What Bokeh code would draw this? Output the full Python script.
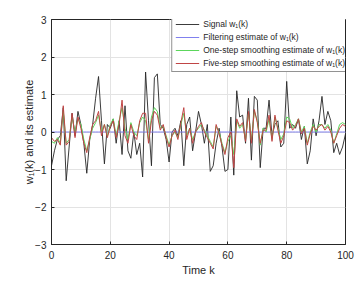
from bokeh.plotting import figure
from bokeh.models import Range1d, SingleIntervalTicker, Legend, LegendItem
from bokeh.embed import file_html
from bokeh.resources import INLINE

k = list(range(101))

signal = [-0.9, -0.5, -0.2, -0.1, 0.65, -1.3, -0.4, 0.5, -0.1, 0.55,
          0.2, -0.3, -1.1, -0.2, 0.2, 0.9, 1.48, 0.3, -0.85, 0.2,
          0.1, 0.35, -0.3, 0.3, -0.6, 0.7, -0.5, -0.7, 0.0, -0.6,
          -0.3, -1.2, 1.6, 0.3, -0.9, 1.45, 1.55, 0.2, 0.1, -0.2,
          -0.8, 0.0, 0.1, -0.1, 0.3, -0.9, 0.2, 0.4, -0.5, 0.0,
          0.55, 0.2, -0.3, 0.2, -1.05, -0.9, -0.3, 0.1, -0.4, -1.05,
          -1.0, 0.4, -1.15, 1.1, 0.4, 0.45, -0.3, 0.9, -0.75, 0.95,
          0.85, -0.95, 0.1, 0.1, 0.85, -0.1, 0.2, 0.3, -0.4, -0.3,
          1.35, 0.1, 0.2, 0.1, 0.35, -0.2, 0.15, -0.85, -0.5, 0.35,
          -0.1, 0.3, 0.95, 0.2, 0.55, 0.3, -0.55, -0.3, -0.6, -0.4,
          -0.05]

filtering = [0.0] * 101

one_step = [-0.25, -0.3, -0.15, -0.3, 0.55, -0.3, -0.2, 0.4, 0.0, 0.35,
            0.2, -0.2, -0.5, -0.2, 0.1, 0.25, 0.45, 0.0, 0.2, -0.1,
            0.2, 0.35, -0.1, 0.3, 0.65, 0.1, -0.2, 0.25, 0.0, -0.1,
            0.25, 0.4, 0.3, -0.2, 0.4, 0.65, 0.55, 0.1, 0.15, -0.1,
            -0.35, -0.1, 0.0, -0.15, 0.2, 0.5, -0.1, 0.1, -0.2, 0.0,
            0.1, 0.2, 0.05, -0.1, -0.25, -0.4, 0.15, 0.0, -0.3, -0.55,
            -0.25, -0.1, -0.6, 0.3, 0.1, 0.2, -0.2, 0.5, -0.2, 0.55,
            0.3, -0.35, 0.1, 0.0, 0.35, -0.2, 0.4, 0.1, -0.2, -0.05,
            0.4, 0.35, 0.1, 0.2, 0.35, 0.0, 0.15, -0.3, 0.0, 0.2,
            0.0, 0.2, 0.2, 0.1, 0.2, 0.05, -0.3, -0.05, 0.2, 0.25,
            0.2]

five_step = [-0.15, -0.25, -0.2, -0.35, 0.7, -0.35, -0.25, 0.5, -0.15, 0.4,
             0.1, -0.3, -0.55, -0.15, 0.2, 0.3, 0.55, -0.1, 0.2, -0.15,
             0.15, 0.3, -0.15, 0.2, 0.85, -0.1, -0.3, 0.2, -0.1, -0.2,
             0.3, 0.5, 0.5, -0.3, 0.3, 0.55, 0.45, 0.05, 0.2, -0.15,
             -0.4, -0.1, 0.05, -0.2, 0.25, 0.65, -0.2, 0.1, -0.3, 0.0,
             0.15, 0.25, 0.0, -0.15, -0.3, -0.45, 0.2, -0.05, -0.35, -0.6,
             -0.15, 0.0, -0.95, 0.35, 0.15, 0.25, -0.25, 0.55, -0.3, 0.6,
             0.25, -0.3, 0.05, 0.05, 0.45, -0.25, 0.45, 0.05, -0.3, -0.1,
             0.3, 0.25, 0.05, 0.15, 0.35, -0.05, 0.1, -0.35, -0.05, 0.15,
             0.05, 0.15, 0.2, 0.05, 0.15, 0.0, -0.3, -0.1, 0.1, 0.2,
             0.15]

labels = ["Signal w\u2081(k)", "Filtering estimate of w\u2081(k)",
          "One-step smoothing estimate of w\u2081(k)",
          "Five-step smoothing estimate of w\u2081(k)"]

FONT = "Liberation Sans"

p = figure(width=356, height=278, output_backend="svg", toolbar_location=None,
           x_range=Range1d(0, 100), y_range=Range1d(-3, 3),
           min_border_left=51, min_border_right=11, min_border_top=19, min_border_bottom=29)
p.background_fill_color = "white"
p.border_fill_color = "white"
p.outline_line_color = "#262626"
p.outline_line_width = 1

r1 = p.line(k, signal, line_color="#262626", line_width=0.9)
r2 = p.line(k, filtering, line_color="#8080ee", line_width=1)
r3 = p.line(k, one_step, line_color="#5cd65c", line_width=1)
r4 = p.line(k, five_step, line_color="#c04545", line_width=1)

p.xaxis.ticker = SingleIntervalTicker(interval=20)
p.yaxis.ticker = SingleIntervalTicker(interval=1)
for ax in (p.xaxis, p.yaxis):
    ax.axis_line_color = "#262626"
    ax.major_tick_in = 3
    ax.major_tick_out = 0
    ax.minor_tick_line_color = None
    ax.major_tick_line_color = "#262626"
    ax.major_label_text_font = FONT
    ax.major_label_text_font_size = "10px"
    ax.major_label_text_color = "#262626"
    ax.axis_label_text_font = FONT
    ax.axis_label_text_font_size = "11px"
    ax.axis_label_text_font_style = "normal"
    ax.axis_label_text_color = "#262626"
p.xaxis.axis_label = "Time k"
p.yaxis.axis_label = "w\u2081(k) and its estimate"
p.xaxis.axis_label_standoff = 2
p.yaxis.axis_label_standoff = -3
p.xaxis.major_label_standoff = 2
p.yaxis.major_label_standoff = 1

p.xgrid.grid_line_color = "#e3e3e3"
p.ygrid.grid_line_color = "#e3e3e3"

legend = Legend(items=[LegendItem(label=labels[0], renderers=[r1]),
                       LegendItem(label=labels[1], renderers=[r2]),
                       LegendItem(label=labels[2], renderers=[r3]),
                       LegendItem(label=labels[3], renderers=[r4])],
                location="top_right")
legend.label_text_font = FONT
legend.label_text_font_size = "8.5px"
legend.label_text_color = "#262626"
legend.label_height = 10
legend.glyph_height = 10
legend.glyph_width = 24
legend.spacing = 3
legend.padding = 3
legend.margin = -4
legend.label_standoff = 4
legend.border_line_color = "#262626"
legend.background_fill_color = "white"
legend.background_fill_alpha = 1
p.add_layout(legend)

open("out.html", "w").write(file_html(p, INLINE))
